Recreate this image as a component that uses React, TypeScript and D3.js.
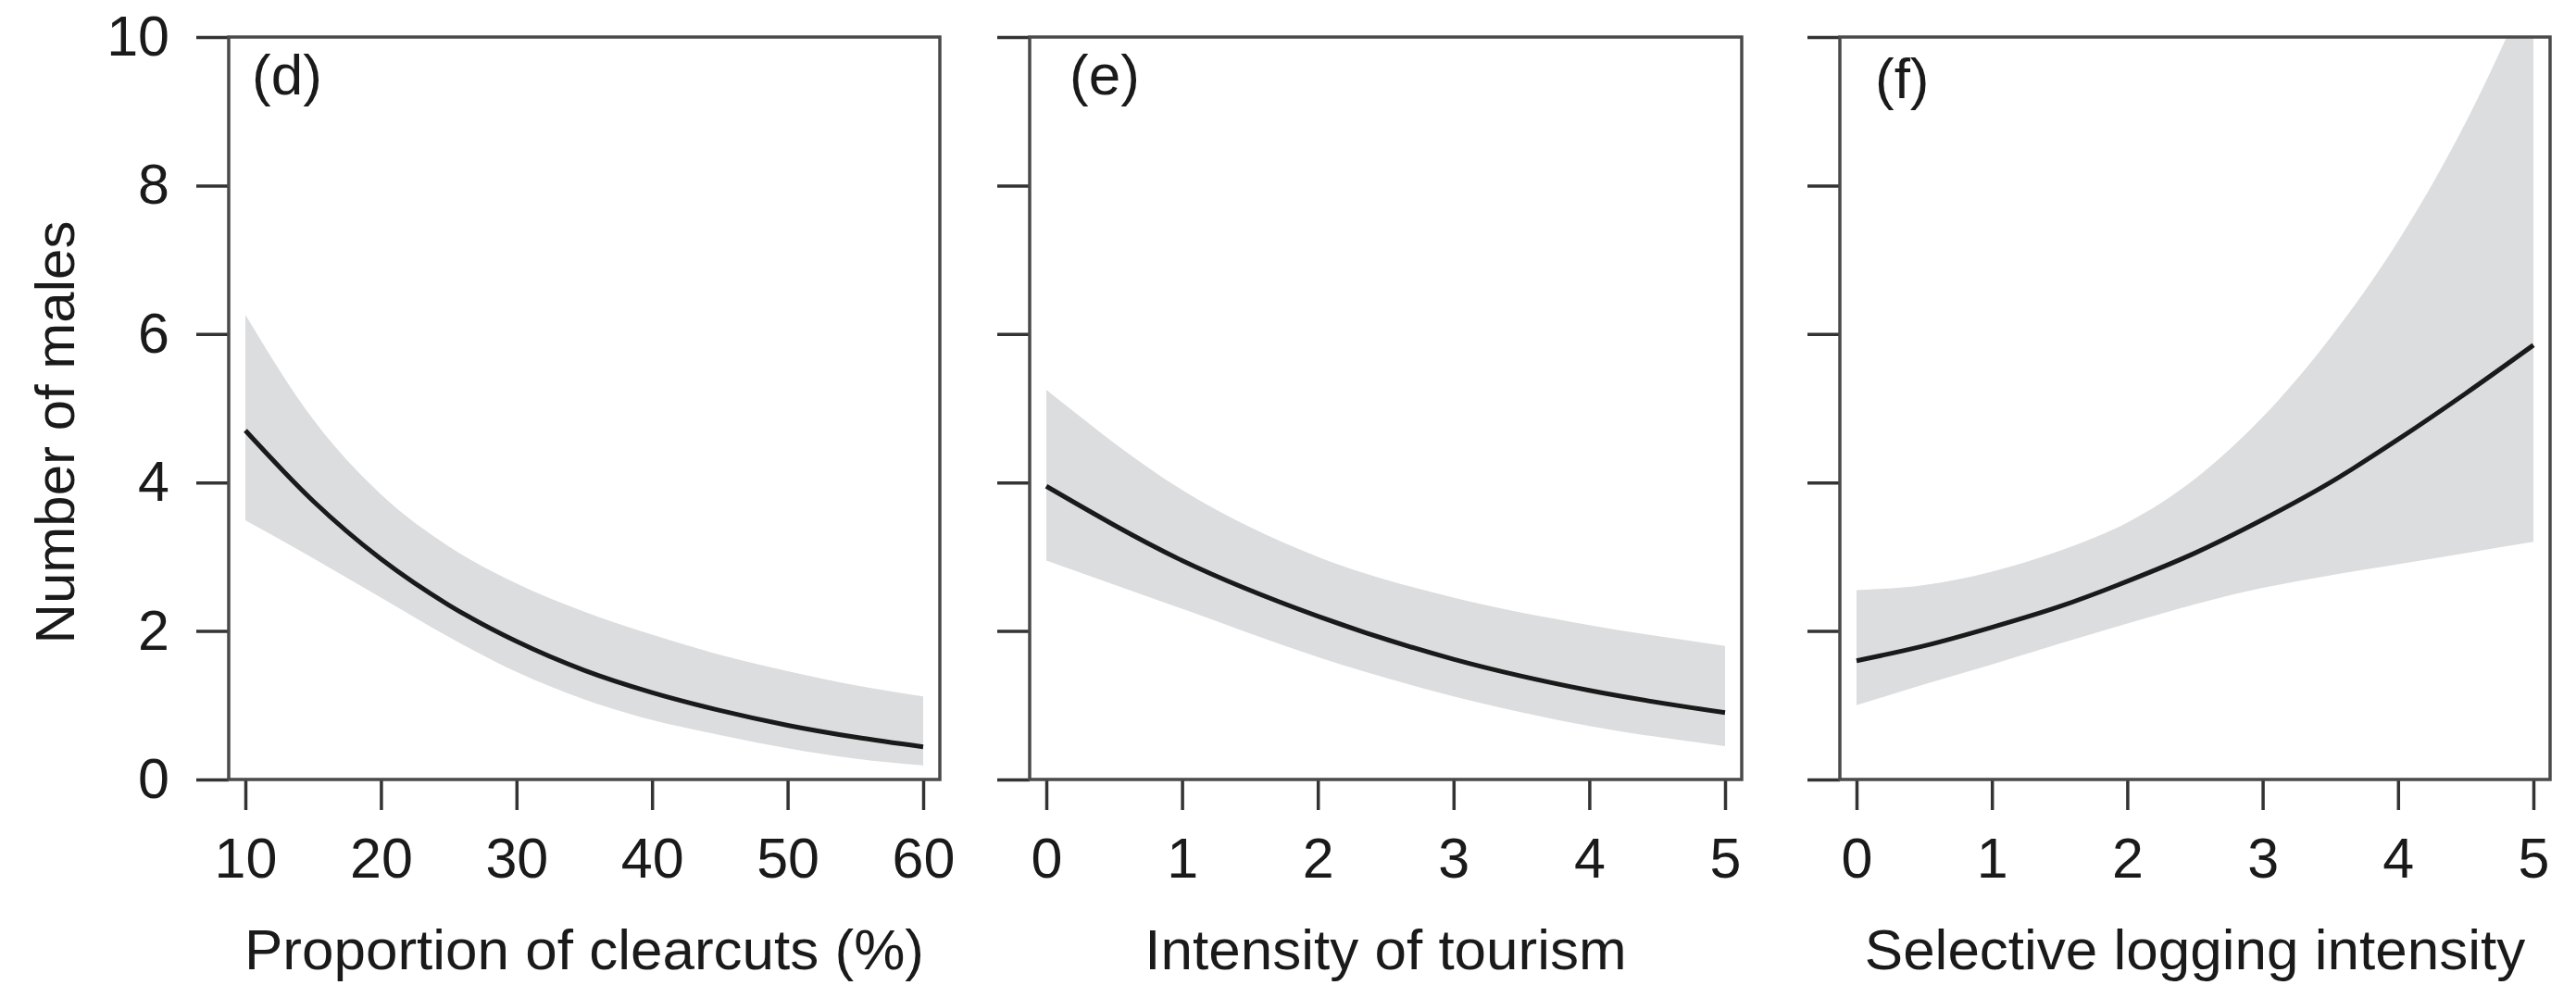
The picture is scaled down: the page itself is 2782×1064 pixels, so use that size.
import React, { useEffect, useRef } from "react";
import * as d3 from "d3";

// panel (d): proportion of clearcuts
const clearcutX = [10, 15, 20, 25, 30, 35, 40, 45, 50, 55, 60];
const clearcutMean = [4.7, 3.75, 2.97, 2.35, 1.86, 1.47, 1.17, 0.93, 0.73, 0.57, 0.44];
const clearcutLower = [3.49, 2.98, 2.45, 1.92, 1.45, 1.08, 0.8, 0.6, 0.42, 0.28, 0.19];
const clearcutUpper = [6.26, 4.85, 3.84, 3.14, 2.64, 2.26, 1.95, 1.68, 1.46, 1.27, 1.12];

// panel (e): intensity of tourism
const tourismX = [0, 1, 2, 3, 4, 5];
const tourismMean = [3.95, 2.95, 2.2, 1.62, 1.2, 0.9];
const tourismLower = [2.95, 2.3, 1.65, 1.12, 0.72, 0.45];
const tourismUpper = [5.25, 3.9, 3.0, 2.45, 2.08, 1.8];

// panel (f): selective logging intensity
const loggingX = [0, 0.5, 1, 1.5, 2, 2.5, 3, 3.5, 4, 4.5, 5];
const loggingMean = [1.6, 1.8, 2.05, 2.33, 2.67, 3.05, 3.5, 4.0, 4.58, 5.2, 5.85];
const loggingLower = [1.0, 1.28, 1.55, 1.83, 2.1, 2.36, 2.58, 2.75, 2.9, 3.05, 3.2];
const loggingUpper = [2.55, 2.62, 2.8, 3.08, 3.46, 4.05, 4.88, 5.95, 7.25, 8.85, 10.8];

const yTicks = [0, 2, 4, 6, 8, 10];
const clearcutTicks = [10, 20, 30, 40, 50, 60];
const intensityTicks = [0, 1, 2, 3, 4, 5];

const panelLabels = ["(d)", "(e)", "(f)"];
const xTitles = ["Proportion of clearcuts (%)", "Intensity of tourism", "Selective logging intensity"];
const yTitle = "Number of males";

const FONT = "'Liberation Sans', Arial, Helvetica, sans-serif";

export default function App() {
  const svgRef = useRef(null);

  useEffect(() => {
    document.body.style.margin = "0";
    document.body.style.overflow = "hidden";

    const width = 2782;
    const height = 1064;
    const top = 40;
    const bottom = 842;
    const pad = 18;

    const panels = [
      { left: 247, right: 1015, xs: clearcutX, mean: clearcutMean, lo: clearcutLower, hi: clearcutUpper, domain: [10, 60], ticks: clearcutTicks, labelDx: 25, labelY: 102 },
      { left: 1112, right: 1881, xs: tourismX, mean: tourismMean, lo: tourismLower, hi: tourismUpper, domain: [0, 5], ticks: intensityTicks, labelDx: 43, labelY: 102 },
      { left: 1987, right: 2754, xs: loggingX, mean: loggingMean, lo: loggingLower, hi: loggingUpper, domain: [0, 5], ticks: intensityTicks, labelDx: 38, labelY: 106 },
    ];

    const svg = d3.select(svgRef.current);
    svg.selectAll("*").remove();
    svg.attr("width", width).attr("height", height);

    const y = d3.scaleLinear().domain([0, 10]).range([bottom, top]);

    panels.forEach((p, i) => {
      const x = d3.scaleLinear().domain(p.domain).range([p.left + pad, p.right - pad]);
      const g = svg.append("g");

      const clipId = `clip-${i}`;
      g.append("clipPath")
        .attr("id", clipId)
        .append("rect")
        .attr("x", p.left)
        .attr("y", top)
        .attr("width", p.right - p.left)
        .attr("height", bottom - top);

      const rows = p.xs.map((v, k) => ({ x: v, m: p.mean[k], lo: p.lo[k], hi: p.hi[k] }));

      const band = d3
        .area()
        .x((d) => x(d.x))
        .y0((d) => y(d.lo))
        .y1((d) => y(d.hi))
        .curve(d3.curveMonotoneX);

      const line = d3
        .line()
        .x((d) => x(d.x))
        .y((d) => y(d.m))
        .curve(d3.curveMonotoneX);

      const plot = g.append("g").attr("clip-path", `url(#${clipId})`);
      plot.append("path").attr("d", band(rows)).attr("fill", "#dcdddf");
      plot
        .append("path")
        .attr("d", line(rows))
        .attr("fill", "none")
        .attr("stroke", "#1a1a1a")
        .attr("stroke-width", 5);

      // y axis, labels only on the first panel
      const yAxis = d3
        .axisLeft(y)
        .tickValues(yTicks)
        .tickSize(35)
        .tickPadding(29)
        .tickFormat(i === 0 ? d3.format("d") : () => "");
      const ya = g.append("g").attr("transform", `translate(${p.left},0)`).call(yAxis);

      // x axis
      const xAxis = d3.axisBottom(x).tickValues(p.ticks).tickSize(33).tickPadding(30).tickFormat(d3.format("d"));
      const xa = g.append("g").attr("transform", `translate(0,${bottom})`).call(xAxis);

      [ya, xa].forEach((a) => {
        a.select(".domain").remove();
        a.selectAll("line").attr("stroke", "#333").attr("stroke-width", 3.5);
        a.selectAll("text").attr("fill", "#1a1a1a").style("font-size", "61px").style("font-family", FONT);
      });

      // box
      g.append("rect")
        .attr("x", p.left)
        .attr("y", top)
        .attr("width", p.right - p.left)
        .attr("height", bottom - top)
        .attr("fill", "none")
        .attr("stroke", "#4a4a4a")
        .attr("stroke-width", 3.5);

      g.append("text")
        .attr("x", p.left + p.labelDx)
        .attr("y", p.labelY)
        .attr("fill", "#1a1a1a")
        .style("font-size", "62px")
        .style("font-family", FONT)
        .text(panelLabels[i]);

      g.append("text")
        .attr("x", (p.left + p.right) / 2)
        .attr("y", 1047)
        .attr("text-anchor", "middle")
        .attr("fill", "#1a1a1a")
        .style("font-size", "62px")
        .style("font-family", FONT)
        .text(xTitles[i]);
    });

    svg
      .append("text")
      .attr("transform", "translate(80,467) rotate(-90)")
      .attr("text-anchor", "middle")
      .attr("fill", "#1a1a1a")
      .style("font-size", "60px")
      .style("font-family", FONT)
      .text(yTitle);
  }, []);

  return <svg ref={svgRef} style={{ position: "absolute", left: 0, top: 0, background: "#fff" }} />;
}
